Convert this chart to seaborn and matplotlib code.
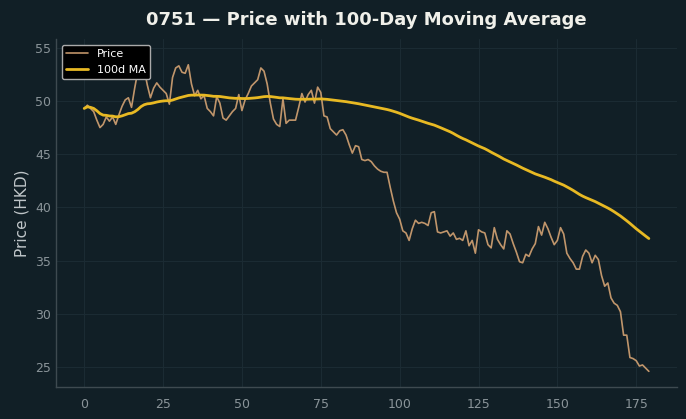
import numpy as np
import pandas as pd
import matplotlib
matplotlib.use("Agg")
import matplotlib.pyplot as plt
import seaborn as sns

title = "0751 \u2014 Price with 100-Day Moving Average"
ylabel = "Price (HKD)"
price_label = "Price"
ma_label = "100d MA"
ma_window = 100

days = list(range(180))
price = [
    49.3, 49.6, 49.3, 49.0, 48.2, 47.5, 47.8, 48.5, 48.1, 48.5,
    47.8, 48.7, 49.5, 50.1, 50.3, 49.4, 51.2, 52.8, 54.3, 53.0,
    51.5, 50.3, 51.2, 51.7, 51.3, 51.0, 50.7, 49.7, 52.2, 53.1,
    53.3, 52.7, 52.6, 53.4, 51.6, 50.5, 51.0, 50.2, 50.5, 49.3,
    49.0, 48.6, 50.4, 49.8, 48.4, 48.2, 48.6, 49.0, 49.3, 50.6,
    49.1, 50.1, 50.7, 51.4, 51.7, 52.0, 53.1, 52.8, 51.6, 49.8,
    48.3, 47.8, 47.6, 50.2, 47.9, 48.2, 48.2, 48.2, 49.4, 50.7,
    49.9, 50.6, 51.0, 49.8, 51.3, 50.8, 48.6, 48.5, 47.4, 47.1,
    46.8, 47.2, 47.3, 46.8, 45.9, 45.1, 45.8, 45.7, 44.5, 44.4,
    44.5, 44.3, 43.9, 43.6, 43.4, 43.3, 43.3, 41.9, 40.6, 39.5,
    38.9, 37.8, 37.6, 36.9, 38.0, 38.8, 38.5, 38.6, 38.5, 38.3,
    39.5, 39.6, 37.7, 37.6, 37.7, 37.8, 37.3, 37.6, 37.0, 37.1,
    36.9, 37.8, 36.4, 36.9, 35.7, 37.9, 37.7, 37.6, 36.5, 36.2,
    38.1, 37.0, 36.5, 36.1, 37.8, 37.5, 36.6, 35.8, 34.9, 34.8,
    35.6, 35.4, 36.1, 36.6, 38.2, 37.4, 38.6, 38.0, 37.2, 36.5,
    36.9, 38.1, 37.5, 35.7, 35.2, 34.8, 34.2, 34.2, 35.4, 36.0,
    35.7, 34.8, 35.5, 35.1, 33.6, 32.6, 32.9, 31.5, 31.0, 30.8,
    30.2, 28.0, 28.0, 25.9, 25.8, 25.6, 25.1, 25.2, 24.9, 24.6,
]

df = pd.DataFrame({"day": days, "price": price})
df["ma"] = df["price"].rolling(ma_window, min_periods=1).mean()

bg = "#111f26"
sns.set_theme(style="dark")
plt.rcParams["font.family"] = ["DejaVu Sans"]

fig, ax = plt.subplots(figsize=(6.86, 4.19), dpi=100)
fig.patch.set_facecolor(bg)
ax.set_facecolor(bg)
fig.subplots_adjust(left=0.0816, right=0.987, top=0.906, bottom=0.076)

sns.lineplot(data=df, x="day", y="price", ax=ax, color="#d4a373", lw=1.2,
             label=price_label, alpha=0.9)
sns.lineplot(data=df, x="day", y="ma", ax=ax, color="#e8b923", lw=2.0,
             label=ma_label)

ax.grid(True, color="#1b2b33", lw=0.8)
ax.set_axisbelow(True)
for s in ["top", "right"]:
    ax.spines[s].set_visible(False)
for s in ["left", "bottom"]:
    ax.spines[s].set_color("#3e4a50")
    ax.spines[s].set_linewidth(1.0)

ax.tick_params(axis="both", colors="#8a9499", labelsize=9, length=4,
               labelcolor="#8a9499")
ax.tick_params(axis="y", length=0)
ax.tick_params(axis="x", color="#5a666b")
ax.set_xlabel("")
ax.set_ylabel(ylabel, color="#c0c6c9", fontsize=11)
ax.set_title(title, color="#f0f0ea", fontsize=13, fontweight="bold", pad=10)

leg = ax.legend(loc="upper left", fontsize=8, facecolor="#000000",
                edgecolor="#aaaaaa", framealpha=1.0)
for t in leg.get_texts():
    t.set_color("#ffffff")

fig.savefig("out.png", dpi=100, facecolor=bg)
